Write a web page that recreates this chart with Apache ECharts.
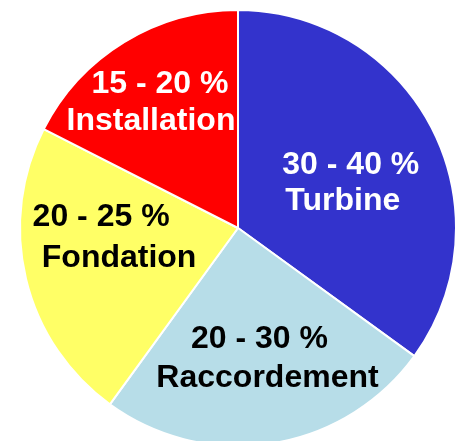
<!DOCTYPE html>
<html>
<head>
<meta charset="utf-8">
<script src="https://cdn.jsdelivr.net/npm/echarts@6/dist/echarts.min.js"></script>
<style>html,body{margin:0;padding:0;background:#fff;}#c{width:458px;height:441px;}</style>
</head>
<body>
<div id="c"></div>
<script>
var categories = ['Turbine', 'Raccordement', 'Fondation', 'Installation'];
var values = [35, 25, 22.5, 17.5];
var rangeLabels = ['30 - 40 %', '20 - 30 %', '20 - 25 %', '15 - 20 %'];

var colors = ['#3333CC', '#B7DDE8', '#FFFF66', '#FF0000'];
var textColors = ['#ffffff', '#000000', '#000000', '#ffffff'];
var labelOffsets = [[9, 6], [8, 20], [-19, -16], [-24, -30]];
var lineShifts = [8, -8, -18, 9];
var lineHeights = [36, 39, 41, 37];

function tok(color, lh, pad) {
  return {
    color: color,
    fontFamily: 'Liberation Sans, Arial, sans-serif',
    fontWeight: 'bold',
    fontSize: 32,
    lineHeight: lh,
    padding: pad
  };
}

var data = categories.map(function (c, i) {
  var d = lineShifts[i];
  var pa = d >= 0 ? [0, 0, 0, d] : [0, -d, 0, 0];
  var pb = d >= 0 ? [0, d, 0, 0] : [0, 0, 0, -d];
  return {
    name: c,
    value: values[i],
    itemStyle: { color: colors[i] },
    label: {
      offset: labelOffsets[i],
      rich: {
        a: tok(textColors[i], lineHeights[i], pa),
        b: tok(textColors[i], lineHeights[i], pb)
      }
    }
  };
});

var chart = echarts.init(document.getElementById('c'), null, { renderer: 'canvas' });
chart.setOption({
  animation: false,
  series: [{
    type: 'pie',
    center: [238, 228],
    radius: 218,
    startAngle: 90,
    clockwise: true,
    avoidLabelOverlap: false,
    itemStyle: { borderColor: '#ffffff', borderWidth: 2 },
    label: {
      show: true,
      position: 'inside',
      fontFamily: 'Liberation Sans, Arial, sans-serif',
      fontWeight: 'bold',
      fontSize: 32,
      align: 'center',
      formatter: function (p) { return '{a|' + rangeLabels[p.dataIndex] + '}\n{b|' + p.name + '}'; }
    },
    labelLine: { show: false },
    emphasis: { disabled: true },
    data: data
  }]
});
</script>
</body>
</html>
